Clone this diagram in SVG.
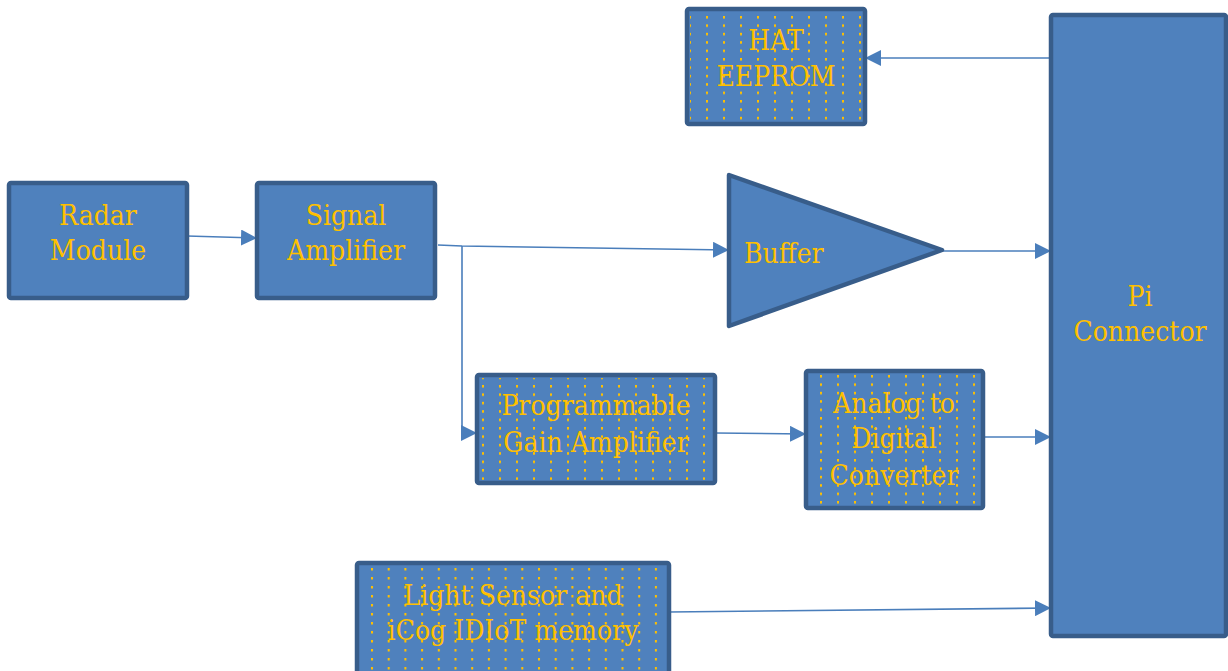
<svg xmlns="http://www.w3.org/2000/svg" width="1228" height="671" viewBox="0 0 1228 671">
<style>
.box{fill:#4F81BD;stroke:#385D8A;stroke-width:4.5}
.lbl{font-family:"DejaVu Serif","Liberation Serif",serif;font-stretch:condensed;font-size:28px;fill:#FFC000;text-anchor:middle}
.con{fill:none;stroke:#4A7EBB;stroke-width:1.6}
</style>
<defs>
<marker id="arr" markerUnits="userSpaceOnUse" markerWidth="16" markerHeight="16" viewBox="0 0 16 16" refX="16" refY="8" orient="auto">
<path d="M0,0 L16,8 L0,16 Z" fill="#4A7EBB"/>
</marker>
<pattern id="dotHat" patternUnits="userSpaceOnUse" x="706" y="16" width="17" height="8.4"><rect width="2" height="2.5" fill="#FFC000"/></pattern>
<pattern id="dotPga" patternUnits="userSpaceOnUse" x="499" y="385" width="17" height="8.4"><rect width="2" height="2.5" fill="#FFC000"/></pattern>
<pattern id="dotAdc" patternUnits="userSpaceOnUse" x="820" y="375" width="17" height="8.4"><rect width="2" height="2.5" fill="#FFC000"/></pattern>
<pattern id="dotLs" patternUnits="userSpaceOnUse" x="371" y="568" width="16.7" height="9"><rect width="2" height="2.5" fill="#FFC000"/></pattern>
</defs>

<g id="connectors">
<path class="con" d="M187,236 L257,238" marker-end="url(#arr)"/>
<path class="con" d="M438,245 L462,246 L729,250" marker-end="url(#arr)"/>
<path class="con" d="M462,246 L462,433 L477,433" marker-end="url(#arr)"/>
<path class="con" d="M830,251 L1051,251" marker-end="url(#arr)"/>
<path class="con" d="M715,433 L806,434" marker-end="url(#arr)"/>
<path class="con" d="M983,437 L1051,437" marker-end="url(#arr)"/>
<path class="con" d="M669,612 L1051,608" marker-end="url(#arr)"/>
<path class="con" d="M1051,58 L865,58" marker-end="url(#arr)"/>
</g>

<g id="hat-eeprom">
<rect class="box" x="687" y="9" width="178" height="115" rx="2"/>
<rect x="690" y="12" width="172" height="109" fill="url(#dotHat)"/>
<text class="lbl" x="776" y="50">HAT</text>
<text class="lbl" x="776" y="86">EEPROM</text>
</g>

<g id="radar-module">
<rect class="box" x="9" y="183" width="178" height="115" rx="2"/>
<text class="lbl" x="98" y="225">Radar</text>
<text class="lbl" x="98" y="260">Module</text>
</g>

<g id="signal-amplifier">
<rect class="box" x="257" y="183" width="178" height="115" rx="2"/>
<text class="lbl" x="346" y="225">Signal</text>
<text class="lbl" x="346" y="260">Amplifier</text>
</g>

<g id="buffer">
<path class="box" d="M729,175 L942,250 L729,326 Z" stroke-linejoin="round"/>
<text class="lbl" x="744" y="263" style="text-anchor:start">Buffer</text>
</g>

<g id="pi-connector">
<rect class="box" x="1051" y="15" width="175" height="621" rx="2"/>
<text class="lbl" x="1140" y="306">Pi</text>
<text class="lbl" x="1140" y="341">Connector</text>
</g>

<g id="pga">
<rect class="box" x="477" y="375" width="238" height="108" rx="2"/>
<rect x="480" y="378" width="232" height="102" fill="url(#dotPga)"/>
<text class="lbl" x="596" y="415">Programmable</text>
<text class="lbl" x="596" y="452">Gain Amplifier</text>
</g>

<g id="adc">
<rect class="box" x="806" y="371" width="177" height="137" rx="2"/>
<rect x="809" y="374" width="171" height="131" fill="url(#dotAdc)"/>
<text class="lbl" x="894" y="413">Analog to</text>
<text class="lbl" x="894" y="448">Digital</text>
<text class="lbl" x="894" y="485">Converter</text>
</g>

<g id="light-sensor">
<rect class="box" x="357" y="563" width="312" height="112" rx="2"/>
<rect x="360" y="566" width="306" height="106" fill="url(#dotLs)"/>
<text class="lbl" x="513" y="605">Light Sensor and</text>
<text class="lbl" x="513" y="640">iCog IDIoT memory</text>
</g>
</svg>
